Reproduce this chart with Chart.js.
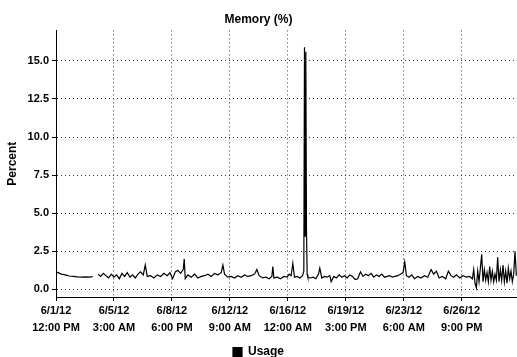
<!DOCTYPE html>
<html>
<head>
<meta charset="utf-8">
<title>Memory (%)</title>
<script src="https://cdn.jsdelivr.net/npm/chart.js@4.4.1/dist/chart.umd.min.js"></script>
<style>
  html, body { margin: 0; padding: 0; background: #fff; }
  #wrap { width: 517px; height: 357px; position: relative; }
</style>
</head>
<body>
<div id="wrap"><canvas id="memChart"></canvas></div>
<script>
/* Memory (%) - single line series on a linear hour axis. */

// hours since 6/1/12 12:00 PM
var hours = [
  0, 3, 8, 14, 20, 26, 32, 38, 44, 50, 55, 59,
  63, 67, 71, 75, 79, 83, 87, 91, 95, 99, 103, 107, 111, 115, 119, 123, 127, 131, 134, 137,
  142, 147, 152, 157, 162, 167, 171, 175, 179, 183, 187, 191, 192.5, 194, 198, 203, 208, 213,
  218, 223, 228, 233, 238, 243, 248, 250.5, 253, 258, 263, 268, 273, 278, 283, 288, 293, 298,
  301.5, 305, 310, 315, 320, 324, 325.5, 327, 332, 337, 342, 347, 350, 353, 355.5, 358, 362,
  366, 370, 372, 373, 374, 375, 376, 377, 378, 382, 386, 390, 394, 396, 399, 403, 407, 411,
  413, 417, 421, 425, 429, 433, 437, 441, 445, 449, 453, 457, 461, 465, 469, 473, 477, 481,
  485, 489, 493, 497, 501, 505, 509, 513, 517, 521, 523.5, 526, 530, 534, 538, 543, 548, 553,
  558, 563, 567, 571, 575, 580, 585, 589, 593, 597, 601, 606, 611, 616, 621, 625,
  627, 629, 631, 633, 635, 637, 639, 641, 643, 645, 647, 649, 651, 653, 655, 657, 659, 661,
  663, 665, 667, 669, 671, 673, 675, 677, 679, 681, 683, 685, 687, 689, 691
];
var usage = [
  1.15, 1.1, 1.0, 0.95, 0.88, 0.85, 0.82, 0.8, 0.82, 0.8, 0.84, null,
  1.0, 0.85, 1.05, 0.9, 0.75, 1.0, 0.8, 0.95, 0.7, 1.05, 0.85, 1.1, 0.8, 0.95, 0.75, 1.0, 1.15, 0.95, 1.6, 0.85,
  0.9, 0.75, 0.95, 0.85, 1.05, 0.9, 1.1, 0.7, 1.15, 1.25, 1.05, 1.3, 2.0, 0.7, 0.95, 0.8, 1.0, 0.75,
  0.85, 0.9, 1.0, 0.85, 1.05, 0.95, 1.1, 1.6, 1.0, 0.8, 0.85, 0.75, 0.9, 0.8, 0.95, 0.85, 0.9, 1.0,
  1.3, 0.9, 0.75, 0.8, 0.7, 0.85, 1.5, 0.75, 0.8, 0.7, 0.85, 0.8, 1.0, 0.9, 1.7, 0.8, 0.85,
  0.75, 0.9, 1.2, 15.9, 3.5, 15.6, 4.0, 1.0, 0.8, 0.75, 0.8, 0.7, 1.0, 1.4, 0.75, 0.85, 0.8, 0.9,
  0.5, 0.85, 0.75, 0.95, 0.8, 0.9, 0.75, 0.95, 0.85, 0.65, 0.7, 1.15, 0.85, 1.0, 0.9, 1.05, 0.8, 0.95,
  0.85, 1.0, 0.8, 0.85, 0.9, 0.8, 0.85, 0.9, 1.0, 1.1, 1.8, 0.9, 0.8, 0.95, 0.7, 0.85, 0.75, 0.9,
  0.8, 1.3, 1.0, 1.2, 0.75, 0.85, 0.7, 1.2, 0.9, 0.8, 0.95, 0.75, 0.9, 0.8, 0.85, 0.7,
  1.3, 0.4, 0.1, 1.2, 0.5, 1.4, 2.3, 0.5, 1.3, 0.6, 1.1, 0.5, 1.5, 0.6, 1.2, 0.5, 1.0, 0.6,
  2.1, 0.5, 1.3, 0.6, 1.6, 0.5, 1.2, 0.4, 1.4, 0.7, 1.2, 0.5, 1.0, 2.5, 0.9
];

var xTickHours = [0, 87, 174, 261, 348, 435, 522, 609];
var xTickLabels = [
  ['6/1/12', '12:00 PM'],
  ['6/5/12', '3:00 AM'],
  ['6/8/12', '6:00 PM'],
  ['6/12/12', '9:00 AM'],
  ['6/16/12', '12:00 AM'],
  ['6/19/12', '3:00 PM'],
  ['6/23/12', '6:00 AM'],
  ['6/26/12', '9:00 PM']
];
var yTicks = [0, 2.5, 5, 7.5, 10, 12.5, 15];

var FONT = "'Liberation Sans', Arial, sans-serif";

var points = hours.map(function (h, i) { return { x: h, y: usage[i] }; });

new Chart(document.getElementById('memChart'), {
  type: 'line',
  data: {
    datasets: [{
      label: 'Usage',
      data: points,
      borderColor: '#000',
      backgroundColor: '#000',
      borderWidth: 1.2,
      pointRadius: 0,
      tension: 0,
      fill: false,
      spanGaps: false
    }]
  },
  options: {
    responsive: true,
    maintainAspectRatio: false,
    animation: false,
    layout: { padding: 0 },
    plugins: {
      title: {
        display: true,
        text: 'Memory (%)',
        color: '#000',
        font: { family: FONT, size: 12, weight: 'bold' },
        padding: { top: 12, bottom: 4 }
      },
      legend: {
        position: 'bottom',
        maxHeight: 14,
        labels: {
          color: '#000',
          boxWidth: 9,
          boxHeight: 9,
          padding: 3,
          font: { family: FONT, size: 12, weight: 'bold' }
        }
      },
      tooltip: { enabled: false }
    },
    scales: {
      x: {
        type: 'linear',
        min: 0,
        max: 692,
        afterBuildTicks: function (scale) {
          scale.ticks = xTickHours.map(function (v) { return { value: v }; });
        },
        afterFit: function (scale) { scale.height = 46; },
        ticks: {
          color: '#000',
          maxRotation: 0,
          padding: 2,
          font: { family: FONT, size: 11, weight: 'bold', lineHeight: 1.5 },
          callback: function (v, i) { return xTickLabels[i]; }
        },
        grid: { color: '#333', tickLength: 4, tickColor: '#000' },
        border: { display: true, color: '#000', width: 1, dash: [1, 3] }
      },
      y: {
        min: -0.5,
        max: 17,
        afterBuildTicks: function (scale) {
          scale.ticks = yTicks.map(function (v) { return { value: v }; });
        },
        afterFit: function (scale) { scale.width = 56; },
        title: {
          display: true,
          text: 'Percent',
          color: '#000',
          font: { family: FONT, size: 12, weight: 'bold' },
          padding: { top: 5, bottom: 0 }
        },
        ticks: {
          color: '#000',
          padding: 3,
          font: { family: FONT, size: 11, weight: 'bold' },
          callback: function (v) { return Number(v).toFixed(1); }
        },
        grid: { color: '#333', tickLength: 4, tickColor: '#000' },
        border: { display: true, color: '#000', width: 1, dash: [1, 3] }
      }
    }
  }
});
</script>
</body>
</html>
